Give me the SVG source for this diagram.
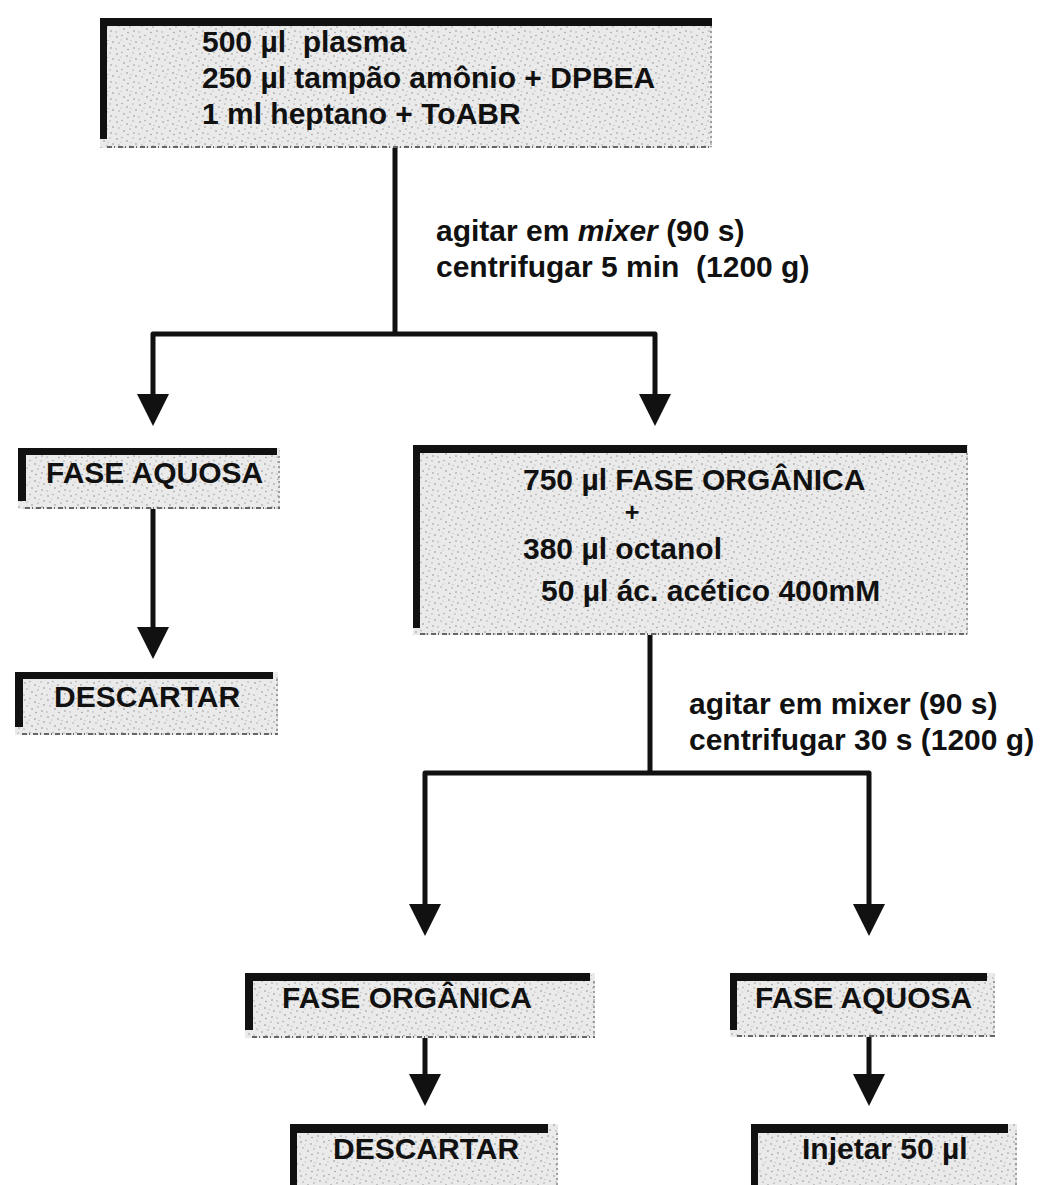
<svg xmlns="http://www.w3.org/2000/svg" width="1047" height="1185" viewBox="0 0 1047 1185">
  <style>
    .txt { font-family: "Liberation Sans", Arial, sans-serif; font-weight: bold; font-size: 30px; fill: #111; white-space: pre; }
    .plus { font-size: 25px; }
    .fill { fill: url(#stipple); }
    .bar { fill: #111; }
    .edge-b { fill: none; stroke: #666; stroke-width: 2; stroke-dasharray: 5 2 1 3; }
    .edge-r { fill: none; stroke: #8c8c8c; stroke-width: 1.6; stroke-dasharray: 2 3; }
    .wire { fill: none; stroke: #111; stroke-width: 5; stroke-linejoin: round; }
    .arrow { marker-end: url(#head); }
  </style>
  <defs>
    <!-- speckled grey shading used inside every box -->
    <pattern id="stipple" width="23" height="17" patternUnits="userSpaceOnUse">
      <rect width="23" height="17" fill="#eaeaea"/>
      <circle cx="2" cy="3" r="0.75" fill="#858585"/>
      <circle cx="7" cy="1.5" r="0.65" fill="#959595"/>
      <circle cx="12" cy="5" r="0.75" fill="#858585"/>
      <circle cx="18" cy="2" r="0.65" fill="#a0a0a0"/>
      <circle cx="21" cy="8" r="0.75" fill="#858585"/>
      <circle cx="4" cy="9" r="0.65" fill="#9b9b9b"/>
      <circle cx="9" cy="12" r="0.75" fill="#858585"/>
      <circle cx="15" cy="10" r="0.65" fill="#959595"/>
      <circle cx="19" cy="14" r="0.75" fill="#8a8a8a"/>
      <circle cx="1" cy="15" r="0.65" fill="#a0a0a0"/>
      <circle cx="13" cy="15.5" r="0.65" fill="#858585"/>
      <circle cx="6" cy="6" r="0.55" fill="#aaaaaa"/>
      <circle cx="16" cy="6.5" r="0.55" fill="#a5a5a5"/>
    </pattern>
    <marker id="head" viewBox="0 0 32 32" markerUnits="userSpaceOnUse" markerWidth="32" markerHeight="32" refX="0" refY="16" orient="auto">
      <path d="M0,0 L32,16 L0,32 Z" fill="#111"/>
    </marker>
  </defs>

  <!-- connectors -->
  <g id="connectors">
    <path class="wire" d="M395,148 V334"/>
    <path class="wire arrow" d="M395,334 H153 V394"/>
    <path class="wire arrow" d="M395,334 H655 V394"/>
    <path class="wire arrow" d="M153,509 V627"/>
    <path class="wire" d="M650,635 V773"/>
    <path class="wire arrow" d="M650,773 H425 V904"/>
    <path class="wire arrow" d="M650,773 H869 V904"/>
    <path class="wire arrow" d="M425,1038 V1074"/>
    <path class="wire arrow" d="M869,1037 V1074"/>
  </g>

  <!-- step labels -->
  <g id="label-step1">
    <text class="txt" x="436" y="241">agitar em <tspan font-style="italic">mixer</tspan> (90 s)</text>
    <text class="txt" x="436" y="277">centrifugar 5 min  (1200 g)</text>
  </g>
  <g id="label-step2">
    <text class="txt" x="689" y="714">agitar em mixer (90 s)</text>
    <text class="txt" x="689" y="750">centrifugar 30 s (1200 g)</text>
  </g>

  <!-- sample mixture -->
  <g id="node-amostra">
    <rect class="fill" x="100" y="18" width="612" height="130"/>
    <path class="edge-r" d="M711,26 V147"/>
    <path class="edge-b" d="M107,147 H712"/>
    <rect class="bar" x="100" y="18" width="612" height="8"/>
    <rect class="bar" x="100" y="18" width="7" height="121"/>
    <text class="txt" x="202" y="52">500 µl  plasma</text>
    <text class="txt" x="202" y="88">250 µl tampão amônio + DPBEA</text>
    <text class="txt" x="202" y="124">1 ml heptano + ToABR</text>
  </g>

  <!-- first aqueous phase -->
  <g id="node-fase-aquosa-1">
    <rect class="fill" x="18" y="448" width="262" height="61"/>
    <path class="edge-r" d="M279,456 V508"/>
    <path class="edge-b" d="M25,508 H280"/>
    <rect class="bar" x="18" y="448" width="259" height="7"/>
    <rect class="bar" x="18" y="448" width="8" height="53"/>
    <text class="txt" x="46" y="483">FASE AQUOSA</text>
  </g>

  <g id="node-descartar-1">
    <rect class="fill" x="15" y="672" width="263" height="63"/>
    <path class="edge-r" d="M277,679 V734"/>
    <path class="edge-b" d="M22,734 H278"/>
    <rect class="bar" x="15" y="672" width="258" height="7"/>
    <rect class="bar" x="15" y="672" width="8" height="55"/>
    <text class="txt" x="54" y="707">DESCARTAR</text>
  </g>

  <!-- organic phase + reagents -->
  <g id="node-fase-organica-mix">
    <rect class="fill" x="413" y="445" width="555" height="190"/>
    <path class="edge-r" d="M967,453 V634"/>
    <path class="edge-b" d="M420,634 H968"/>
    <rect class="bar" x="413" y="445" width="554" height="8"/>
    <rect class="bar" x="413" y="445" width="7" height="183"/>
    <text class="txt" x="523" y="490">750 µl FASE ORGÂNICA</text>
    <text class="txt plus" x="632" y="521" text-anchor="middle">+</text>
    <text class="txt" x="523" y="559">380 µl octanol</text>
    <text class="txt" x="541" y="601">50 µl ác. acético 400mM</text>
  </g>

  <!-- second extraction -->
  <g id="node-fase-organica-2">
    <rect class="fill" x="245" y="973" width="350" height="65"/>
    <path class="edge-r" d="M594,981 V1037"/>
    <path class="edge-b" d="M252,1037 H595"/>
    <rect class="bar" x="245" y="973" width="345" height="8"/>
    <rect class="bar" x="245" y="973" width="8" height="57"/>
    <text class="txt" x="282" y="1008">FASE ORGÂNICA</text>
  </g>

  <g id="node-fase-aquosa-2">
    <rect class="fill" x="730" y="973" width="265" height="64"/>
    <path class="edge-r" d="M994,981 V1036"/>
    <path class="edge-b" d="M737,1036 H995"/>
    <rect class="bar" x="730" y="973" width="257" height="8"/>
    <rect class="bar" x="730" y="973" width="7" height="57"/>
    <text class="txt" x="755" y="1008">FASE AQUOSA</text>
  </g>

  <g id="node-descartar-2">
    <rect class="fill" x="290" y="1124" width="268" height="61"/>
    <path class="edge-r" d="M557,1133 V1185"/>
    <rect class="bar" x="290" y="1124" width="258" height="9"/>
    <rect class="bar" x="290" y="1124" width="7" height="61"/>
    <text class="txt" x="333" y="1159">DESCARTAR</text>
  </g>

  <g id="node-injetar">
    <rect class="fill" x="751" y="1124" width="266" height="61"/>
    <path class="edge-r" d="M1016,1133 V1185"/>
    <rect class="bar" x="751" y="1124" width="257" height="9"/>
    <rect class="bar" x="751" y="1124" width="7" height="61"/>
    <text class="txt" x="802" y="1159">Injetar 50 µl</text>
  </g>
</svg>
